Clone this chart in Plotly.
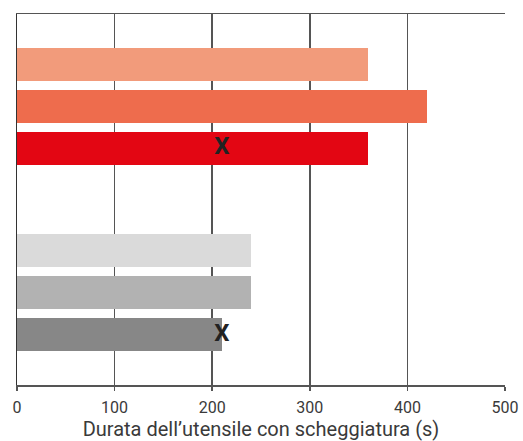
import plotly.graph_objects as go

# Data
bar_labels = ["A1", "A2", "A3", "B1", "B2", "B3"]
durations = [360, 420, 360, 240, 240, 210]
bar_colors = ["#F29B7B", "#EE6C4D", "#E30613", "#DADADA", "#B2B2B2", "#878787"]
group_index = [0, 0, 0, 1, 1, 1]
marker_labels = ["A3", "B3"]
marker_values = [210, 210]
x_ticks = [0, 100, 200, 300, 400, 500]

GROUP_GAP = 1.4286
pos = {lab: i + g * GROUP_GAP for i, (lab, g) in enumerate(zip(bar_labels, group_index))}
ypos = [pos[l] for l in bar_labels]

fig = go.Figure()
fig.add_trace(go.Bar(
    x=durations, y=ypos, orientation="h",
    marker=dict(color=bar_colors, line=dict(width=0)),
    width=0.786, showlegend=False, hoverinfo="x",
))
fig.add_trace(go.Scatter(
    x=marker_values, y=[pos[l] for l in marker_labels], mode="text",
    text=["X"] * len(marker_values), textposition="middle center",
    textfont=dict(family="Roboto", size=24, color="#222222", weight="bold"),
    showlegend=False, hoverinfo="skip",
))

fig.update_layout(
    width=523, height=441,
    margin=dict(l=17, r=18, t=14, b=56, autoexpand=False),
    paper_bgcolor="white", plot_bgcolor="white",
    font=dict(family="Roboto", color="#333333"),
    bargap=0,
)
fig.update_xaxes(
    range=[0, 500], tickvals=x_ticks, ticktext=[str(v) for v in x_ticks],
    showgrid=True, gridcolor="#555555", gridwidth=1.5,
    showline=True, linecolor="#555555", linewidth=1.5, mirror=True,
    ticks="outside", ticklen=4, tickcolor="#555555", tickwidth=1.5,
    ticklabelstandoff=3,
    tickfont=dict(size=16, color="#3a3a3a"),
    title=dict(text="Durata dell\u2019utensile con scheggiatura (s)",
               font=dict(size=20, color="#3a3a3a"), standoff=7),
    zeroline=False, fixedrange=True, automargin=False,
)
fig.update_yaxes(
    range=[7.631, -1.202], showticklabels=False, showgrid=False,
    showline=True, linecolor="#333333", linewidth=1.5,
    zeroline=False, ticks="", fixedrange=True, automargin=False,
)

fig.write_html(
    "out.html",
    config={"displayModeBar": False, "staticPlot": True},
    post_script="document.body.style.margin='0px';document.body.style.overflow='hidden';",
)
